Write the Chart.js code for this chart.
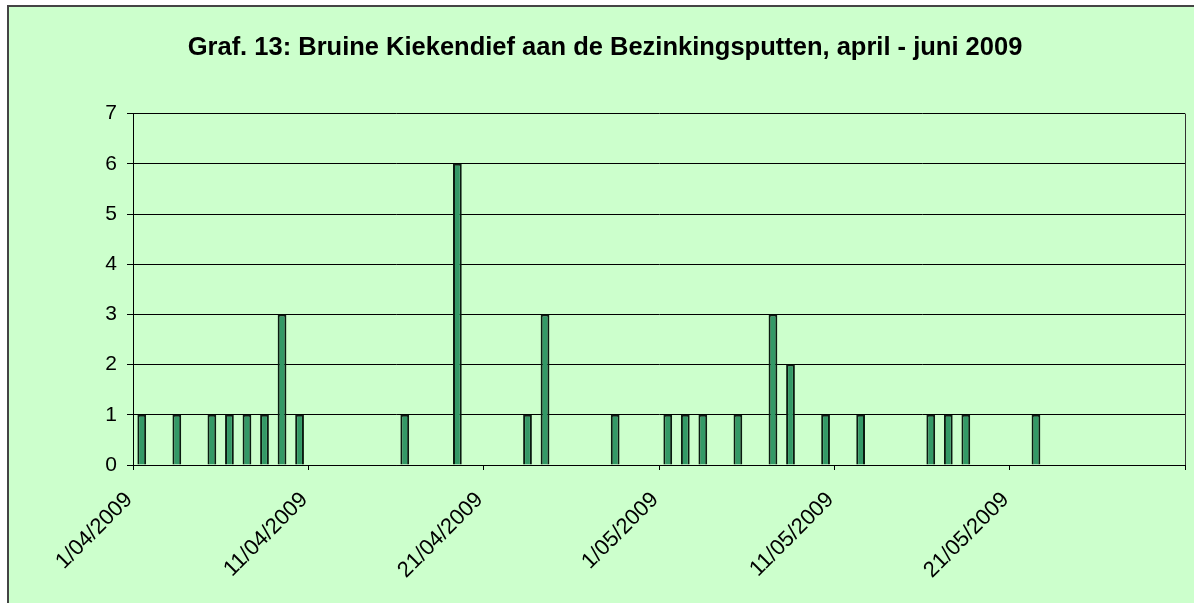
<!DOCTYPE html>
<html>
<head>
<meta charset="utf-8">
<script src="https://cdn.jsdelivr.net/npm/chart.js@4"></script>
<style>
  html, body { margin: 0; padding: 0; background: #fff; overflow: hidden; }
  #wrap { position: absolute; left: 7px; top: 5px; border: 2px solid #444; background: #CCFFCC; }
  canvas { display: block; }
</style>
</head>
<body>
<div id="wrap"><canvas id="chart" width="1192" height="600"></canvas></div>
<script>
// days with sightings (april - may 2009) and number of birds
const sightingDates = ['1/04', '3/04', '5/04', '6/04', '7/04', '8/04', '9/04', '10/04', '16/04', '19/04',
  '23/04', '24/04', '28/04', '1/05', '2/05', '3/05', '5/05', '7/05', '8/05', '10/05',
  '12/05', '16/05', '17/05', '18/05', '22/05'];
const birdCounts = [1, 1, 1, 1, 1, 1, 3, 1, 1, 6,
  1, 3, 1, 1, 1, 1, 1, 3, 2, 1,
  1, 1, 1, 1, 1];
const tickLabels = ['1/04/2009', '11/04/2009', '21/04/2009', '1/05/2009', '11/05/2009', '21/05/2009'];
const yTicks = [0, 1, 2, 3, 4, 5, 6, 7];

// day number counted from 1 april (0 = 1/04)
function dayIndex(s) {
    const [d, m] = s.split('/').map(Number);
    return m === 4 ? d - 1 : 30 + d - 1;
}

const points = sightingDates.map((s, i) => ({ x: dayIndex(s) + 0.5, y: birdCounts[i] }));

const font = "'Liberation Sans', Arial, sans-serif";

// right edge of the plot area
const plotBorder = {
    id: 'plotBorder',
    afterDraw(chart) {
        const { ctx, chartArea } = chart;
        ctx.save();
        ctx.strokeStyle = '#333';
        ctx.lineWidth = 1;
        ctx.beginPath();
        ctx.moveTo(Math.round(chartArea.right) + 0.5, chartArea.top);
        ctx.lineTo(Math.round(chartArea.right) + 0.5, chartArea.bottom);
        ctx.stroke();
        ctx.restore();
    }
};

new Chart(document.getElementById('chart'), {
    type: 'bar',
    data: {
        datasets: [{
            data: points,
            backgroundColor: '#339966',
            borderColor: '#0a1a10',
            borderWidth: 2,
            categoryPercentage: 0.5,
            barPercentage: 1
        }]
    },
    options: {
        responsive: false,
        animation: false,
        layout: { padding: { left: 16, right: 16, top: 0, bottom: 0 } },
        scales: {
            x: {
                type: 'linear',
                min: 0,
                max: 60,
                offset: false,
                grid: { display: true, offset: false, drawOnChartArea: false, drawTicks: true, tickLength: 5, color: '#000' },
                border: { color: '#000', width: 1 },
                ticks: {
                    stepSize: 10,
                    autoSkip: false,
                    minRotation: 45,
                    maxRotation: 45,
                    padding: 17,
                    labelOffset: -4,
                    color: '#000',
                    font: { family: font, size: 22 },
                    callback: (v) => tickLabels[v / 10] ?? ''
                },
                afterFit(scale) {
                    scale.height = 142;
                    scale.paddingLeft = 0;
                    scale.paddingRight = 0;
                }
            },
            y: {
                min: 0,
                max: 7,
                grid: { color: '#000', lineWidth: 1, tickLength: 6 },
                border: { color: '#000', width: 1 },
                afterBuildTicks(scale) { scale.ticks = yTicks.map(v => ({ value: v })); },
                ticks: {
                    padding: 10,
                    color: '#000',
                    font: { family: font, size: 21 }
                },
                afterFit(scale) { scale.width = 108; }
            }
        },
        plugins: {
            legend: { display: false },
            tooltip: { enabled: false },
            title: {
                display: true,
                text: 'Graf. 13: Bruine Kiekendief aan de Bezinkingsputten, april - juni 2009',
                color: '#000',
                font: { family: font, size: 25.5, weight: 'bold' },
                padding: { top: 26, bottom: 50 }
            }
        }
    },
    plugins: [plotBorder]
});
</script>
</body>
</html>
